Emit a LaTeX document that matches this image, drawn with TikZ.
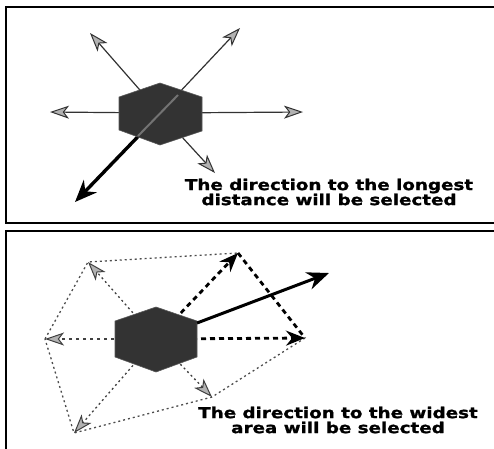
\documentclass[tikz,border=0pt]{standalone}
\usepackage{fontspec}
\newfontfamily\capfont[FakeStretch=1.22,FakeBold=1.2]{DejaVu Sans Bold}
\usetikzlibrary{arrows.meta}
\tikzset{
  panel/.style={draw=black, line width=1.5pt},
  hexa/.style={fill=black!80, draw=black!65, line width=0.6pt},
  grayhead/.style={-{Stealth[length=19pt,width=13pt,inset=5pt,fill=gray!60,line width=1pt]}},
  thinarrow/.style={draw=black!80, line width=1.2pt, grayhead},
  dotspoke/.style={draw=black!75, line width=1.3pt, dash pattern=on 2pt off 3pt, grayhead},
  dashspoke/.style={draw=black!75, line width=1.3pt, dash pattern=on 3pt off 4pt, grayhead},
  dotedge/.style={draw=black!70, line width=1.3pt, dash pattern=on 2pt off 3pt},
  thickdash/.style={draw=black, line width=2.8pt, dash pattern=on 5pt off 4pt},
  thickdasharrow/.style={thickdash, -{Stealth[length=19pt,width=15pt]}},
  bigarrow/.style={draw=black, line width=3.4pt, -{Stealth[length=22pt,width=18pt]}},
  caption/.style={align=center, font={\capfont\fontsize{15}{15}\selectfont}, inner sep=0pt}
}
\begin{document}
\begin{tikzpicture}[x=1pt,y=-1pt]
\useasboundingbox (0,0) rectangle (494,448);
% panels
\draw[panel] (6,7) rectangle (498,223);
\draw[panel] (6,231) rectangle (498,455);

% ---- top panel ----
\coordinate (c1) at (160,113);
\coordinate (t1L) at (50,112);
\coordinate (t1R) at (303,112);
\coordinate (t1UL) at (90,33);
\coordinate (t1UR) at (240,28);
\coordinate (t1LR) at (215,173);
\coordinate (t1LL) at (75,202);
\draw[thinarrow] (c1) -- (t1L);
\draw[thinarrow] (c1) -- (t1R);
\draw[thinarrow] (c1) -- (t1UL);
\draw[thinarrow] (c1) -- (t1UR);
\draw[thinarrow] (c1) -- (t1LR);
\draw[bigarrow] (178,95) -- (t1LL);
\draw[hexa] (119,97) -- (160,83) -- (202,97) -- (202,131) -- (160,145) -- (119,130) -- cycle;
\draw[black!55, line width=2pt] (178,95) -- (138,136);
\node[caption] (cap1) at (329,192) {The direction to the longest\\distance will be selected};

% ---- bottom panel ----
\coordinate (c2) at (156,339);
\coordinate (bL) at (45,339);
\coordinate (bUL) at (88,262);
\coordinate (bUR) at (238,253);
\coordinate (bR) at (305,338);
\coordinate (bLR) at (212,397);
\coordinate (bLL) at (74,433);
\coordinate (bS) at (197,323);
\coordinate (bT) at (329,273);
% polygon
\draw[dotedge] (bL) -- (bUL) -- (bUR);
\draw[thickdash] (bUR) -- (bR);
\draw[dotedge] (bR) -- (bLR) -- (bLL) -- (bL);
% spokes
\draw[dashspoke] (c2) -- (bL);
\draw[dotspoke] (c2) -- (bUL);
\draw[dotspoke] (c2) -- (bLR);
\draw[dotspoke] (c2) -- (bLL);
\draw[thickdasharrow] (c2) -- (bUR);
\draw[thickdasharrow] (c2) -- (bR);
\draw[hexa] (115,321) -- (156,307) -- (197,321) -- (197,357) -- (156,372) -- (115,357) -- cycle;
\draw[bigarrow, line width=3pt] (bS) -- (bT);
\node[caption] (cap2) at (338,420) {The direction to the widest\\area will be selected};
\end{tikzpicture}
\end{document}
